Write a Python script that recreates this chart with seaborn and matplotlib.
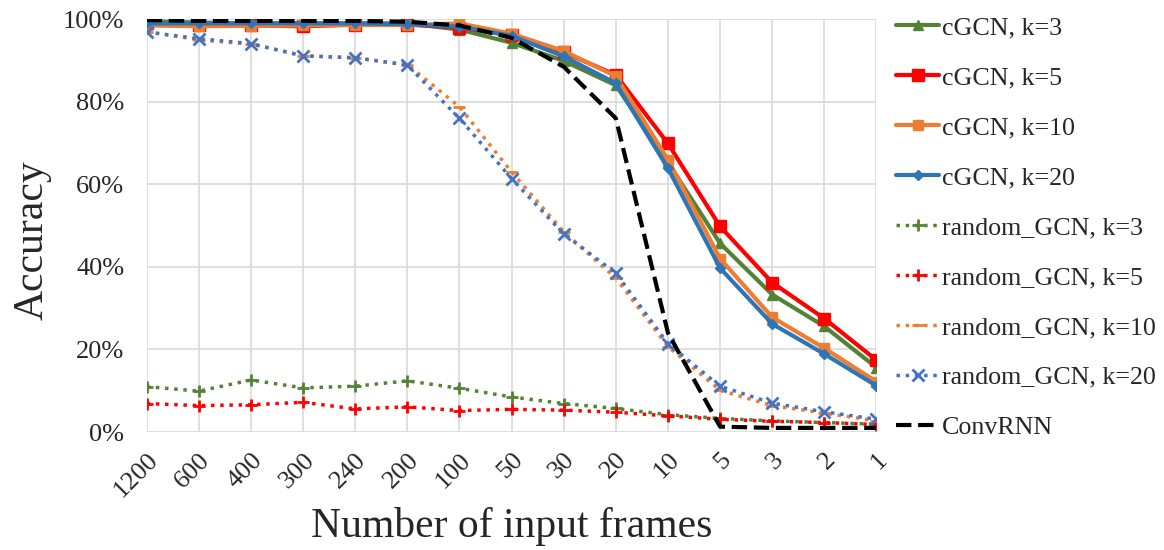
import numpy as np
import pandas as pd
import matplotlib
matplotlib.use("Agg")
import matplotlib.pyplot as plt
import seaborn as sns
from matplotlib.ticker import PercentFormatter

frames = ["1200", "600", "400", "300", "240", "200", "100", "50", "30", "20", "10", "5", "3", "2", "1"]

cgcn_k3 = [99.5, 99.2, 99.0, 99.0, 99.0, 99.0, 97.5, 94.3, 89.9, 84.0, 65.3, 45.7, 33.3, 25.6, 15.6]
cgcn_k5 = [99.0, 98.6, 98.5, 98.3, 98.7, 98.7, 98.0, 96.1, 92.0, 86.5, 69.9, 49.8, 36.2, 27.5, 17.4]
cgcn_k10 = [98.5, 98.3, 98.4, 98.5, 98.6, 98.6, 99.0, 96.5, 92.3, 86.2, 66.0, 42.0, 27.8, 20.3, 12.2]
cgcn_k20 = [99.0, 99.0, 99.0, 99.0, 99.0, 98.8, 98.2, 96.0, 91.0, 84.5, 63.9, 39.7, 26.2, 18.9, 11.2]
rand_k3 = [11.0, 9.9, 12.6, 10.7, 11.1, 12.4, 10.6, 8.5, 6.9, 5.7, 4.2, 3.3, 2.7, 2.3, 1.9]
rand_k5 = [6.9, 6.4, 6.6, 7.2, 5.6, 6.1, 5.2, 5.5, 5.3, 4.8, 3.9, 3.1, 2.6, 2.3, 1.8]
rand_k10 = [97.0, 95.0, 94.0, 91.2, 90.6, 89.0, 78.8, 63.0, 48.5, 37.3, 20.7, 10.1, 6.4, 4.6, 2.7]
rand_k20 = [96.9, 95.3, 94.1, 91.1, 90.7, 88.9, 76.0, 61.4, 48.0, 38.5, 21.4, 11.1, 7.0, 4.9, 3.1]
convrnn = [99.8, 99.6, 99.6, 99.6, 99.6, 99.4, 98.5, 95.5, 88.5, 76.0, 24.0, 1.3, 1.0, 1.0, 1.0]

series = [
    ("cGCN, k=3", cgcn_k3, dict(color="#548235", ls="-", lw=3, marker="^", ms=7)),
    ("cGCN, k=5", cgcn_k5, dict(color="#FF0000", ls="-", lw=3, marker="s", ms=8)),
    ("cGCN, k=10", cgcn_k10, dict(color="#ED7D31", ls="-", lw=3, marker="s", ms=7)),
    ("cGCN, k=20", cgcn_k20, dict(color="#2E75B6", ls="-", lw=3, marker="D", ms=5)),
    ("random_GCN, k=3", rand_k3, dict(color="#548235", ls=":", lw=2.5, marker="+", ms=9)),
    ("random_GCN, k=5", rand_k5, dict(color="#FF0000", ls=":", lw=2.5, marker="+", ms=9)),
    ("random_GCN, k=10", rand_k10, dict(color="#ED7D31", ls=":", lw=2.5, marker="_", ms=9)),
    ("random_GCN, k=20", rand_k20, dict(color="#4472C4", ls=":", lw=2.5, marker="x", ms=8)),
    ("ConvRNN", convrnn, dict(color="black", ls="--", lw=3, marker=None, ms=0)),
]

sns.set_style("white")
plt.rcParams['font.family'] = ['Liberation Serif', 'DejaVu Serif']

fig = plt.figure(figsize=(11.64, 5.5), dpi=100)
ax = fig.add_axes([0.126, 0.2145, 0.627, 0.7505])

for name, vals, st in series:
    df = pd.DataFrame({"frames": frames, "acc": np.array(vals) / 100.0})
    sns.lineplot(data=df, x="frames", y="acc", ax=ax, label=name,
                 color=st["color"], linestyle=st["ls"], linewidth=st["lw"],
                 marker=st["marker"], markersize=st["ms"],
                 markeredgewidth=2 if st["marker"] in ("+", "x", "_") else 1,
                 markeredgecolor=st["color"], sort=False)

ax.set_xlim(0, len(frames) - 1)
ax.set_ylim(0, 1.0)
ax.set_yticks(np.arange(0, 1.01, 0.2))
ax.yaxis.set_major_formatter(PercentFormatter(1.0, decimals=0))
ax.grid(True, color="#D9D9D9", linewidth=1.2)
for s in ax.spines.values():
    s.set_visible(False)
ax.tick_params(length=0, labelsize=19)
ax.tick_params(axis="y", pad=16)
ax.tick_params(axis="x", pad=12)
plt.setp(ax.get_xticklabels(), rotation=45, ha="right", rotation_mode="anchor")
ax.set_xlabel("Number of input frames", fontsize=30, labelpad=4)
ax.set_ylabel("Accuracy", fontsize=30)
ax.yaxis.set_label_coords(-0.13, 0.465)

ax.legend(loc="upper left", bbox_to_anchor=(0.995, 1.064), frameon=False,
          fontsize=18.7, handlelength=1.65, handletextpad=0.1, labelspacing=1.03)

fig.savefig("out.png", dpi=100)
